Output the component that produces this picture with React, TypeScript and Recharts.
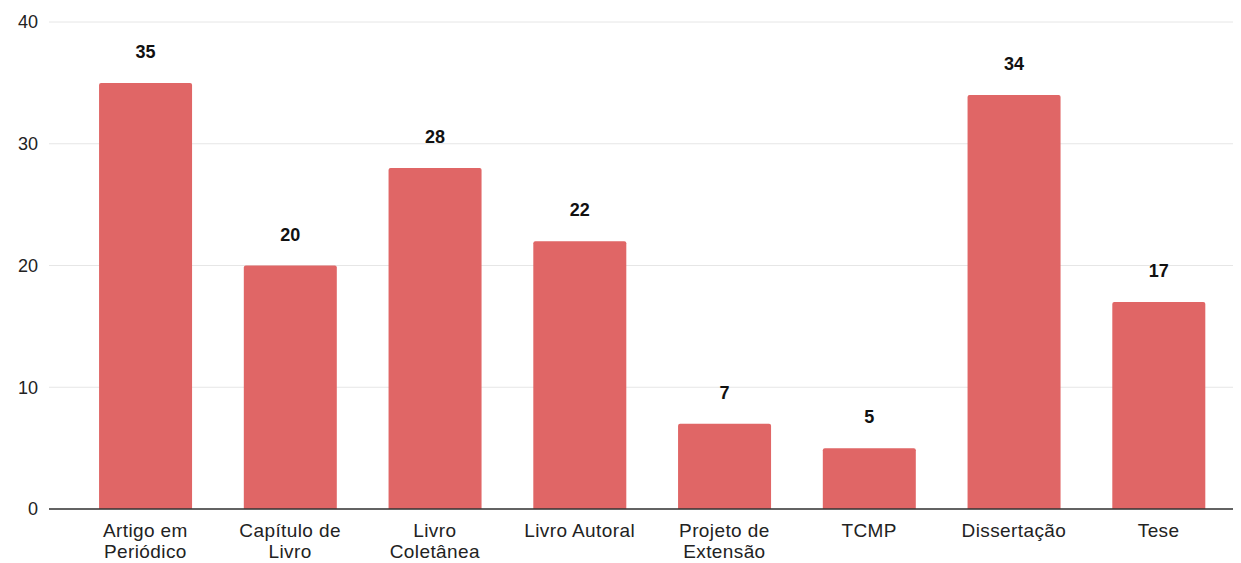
import React from 'react';
import { BarChart, Bar, XAxis, YAxis, CartesianGrid, LabelList } from 'recharts';

const categories = [
  'Artigo em\nPeriódico',
  'Capítulo de\nLivro',
  'Livro\nColetânea',
  'Livro Autoral',
  'Projeto de\nExtensão',
  'TCMP',
  'Dissertação',
  'Tese',
];
const counts = [35, 20, 28, 22, 7, 5, 34, 17];
const yTicks = [0, 10, 20, 30, 40];

const data = categories.map((name, i) => ({ name, value: counts[i] }));

const FONT = 'Arial, "Liberation Sans", sans-serif';

const CategoryTick = (props: any) => {
  const { x, y, payload } = props;
  const lines = String(payload.value).split('\n');
  return (
    <text x={x} y={y} textAnchor="middle" fill="#222" fontSize={19} letterSpacing={0.4} fontFamily={FONT}>
      {lines.map((line: string, i: number) => (
        <tspan key={i} x={x} dy={i === 0 ? 28 : 21}>
          {line}
        </tspan>
      ))}
    </text>
  );
};

const App: React.FC = () => {
  return (
    <div style={{ position: 'absolute', left: 0, top: 0, width: 1241, height: 563, background: '#fff' }}>
      <BarChart
        width={1241}
        height={563}
        data={data}
        margin={{ top: 22, right: 8, left: 0, bottom: 0 }}
        barCategoryGap="18%"
      >
        <CartesianGrid vertical={false} stroke="#e6e6e6" />
        <XAxis
          dataKey="name"
          height={54}
          axisLine={{ stroke: '#333', strokeWidth: 1.5 }}
          tickLine={false}
          tickSize={0}
          tickMargin={0}
          interval={0}
          padding={{ left: 24, right: 2 }}
          tick={<CategoryTick />}
        />
        <YAxis
          width={49}
          domain={[0, 40]}
          ticks={yTicks}
          axisLine={false}
          tickLine={false}
          tickSize={0}
          tickMargin={11}
          tick={{ fill: '#222', fontSize: 18, fontFamily: FONT }}
        />
        <Bar dataKey="value" fill="#e06666" radius={[2, 2, 0, 0]} isAnimationActive={false}>
          <LabelList
            dataKey="value"
            position="top"
            offset={25}
            fill="#111"
            fontSize={18}
            fontWeight="bold"
            fontFamily={FONT}
          />
        </Bar>
      </BarChart>
    </div>
  );
};

export default App;
